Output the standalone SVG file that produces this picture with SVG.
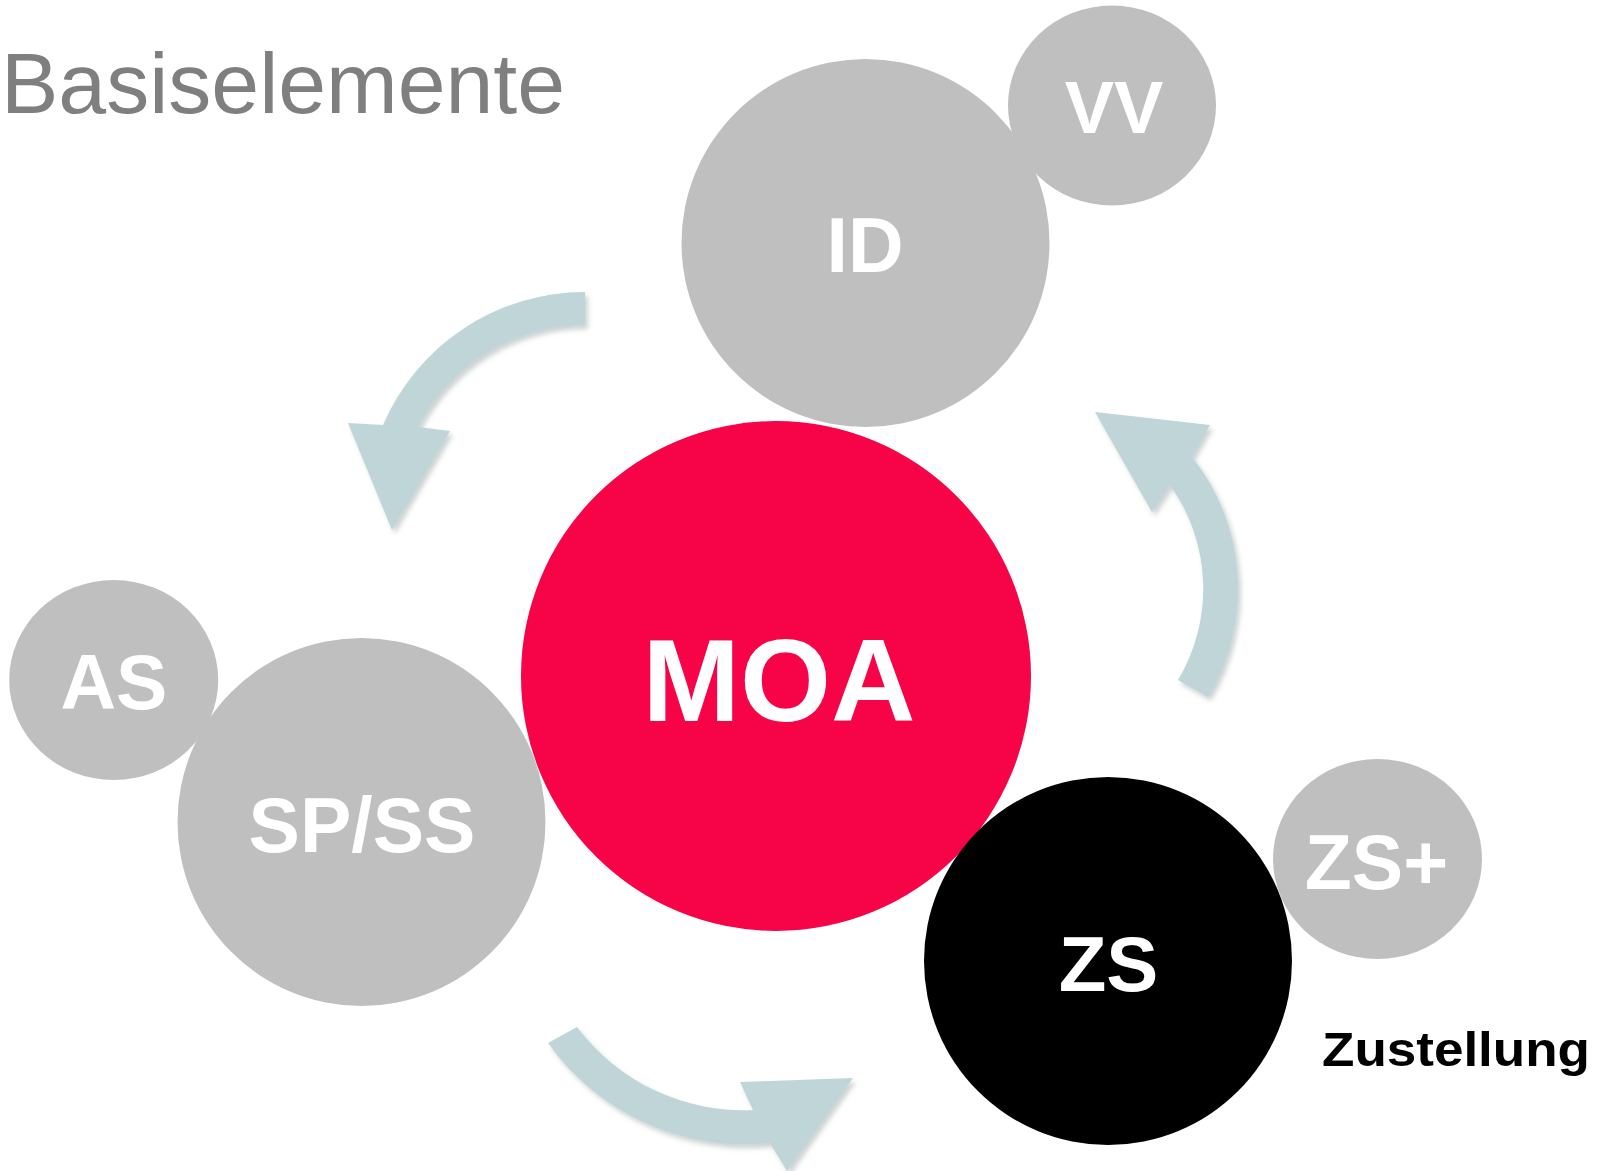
<svg xmlns="http://www.w3.org/2000/svg" width="1606" height="1171" viewBox="0 0 1606 1171">
<defs>
<style>
.g{fill:#BFBFBF}
.lbl{font-family:"Liberation Sans",Arial,sans-serif;font-weight:bold;fill:#FFFFFF;text-anchor:middle}
.arr{fill:#BFD5D7;filter:url(#sh)}
</style>
<filter id="sh" x="-20%" y="-20%" width="140%" height="140%">
<feDropShadow dx="3" dy="4" stdDeviation="2.5" flood-color="#6f7f80" flood-opacity="0.35"/>
</filter>
</defs>
<rect width="1606" height="1171" fill="#FFFFFF"/>
<text x="1" y="113" font-family="Liberation Sans, Arial, sans-serif" font-size="86" fill="#7F7F7F">Basiselemente</text>
<g id="connectors">
<path class="arr" d="M585,292 A220,220 0 0 0 383,425 L348,423 L392,530 L450,431 L418,427 A187,187 0 0 1 585,325 Z"/>
<path class="arr" d="M1208,697 A211,211 0 0 0 1192,457 L1210,425 L1095,412 L1152,512 L1170,485 A178,178 0 0 1 1178,680 Z"/>
<path class="arr" d="M577,1027 A208,208 0 0 0 753,1110 L740,1082 L853,1078 L787,1171 L770,1143 A242,242 0 0 1 548,1043 Z"/>
</g>
<g id="ID">
<circle class="g" cx="865.5" cy="243" r="184"/>
<text class="lbl" x="865" y="271.5" font-size="77">ID</text>
</g>
<g id="VV">
<ellipse class="g" cx="1112" cy="105.5" rx="104" ry="100"/>
<text class="lbl" x="1114" y="133" font-size="74">VV</text>
</g>
<g id="SPSS">
<circle class="g" cx="361.5" cy="822" r="184"/>
<text class="lbl" x="362" y="852" font-size="77">SP/SS</text>
</g>
<g id="AS">
<ellipse class="g" cx="113.7" cy="680" rx="104.5" ry="100"/>
<text class="lbl" x="114" y="709" font-size="77">AS</text>
</g>
<g id="MOA">
<circle cx="776" cy="676" r="255" fill="#F70347"/>
<text class="lbl" x="779" y="721" font-size="117">MOA</text>
</g>
<g id="ZS">
<circle cx="1108" cy="961" r="184" fill="#000000"/>
<text class="lbl" x="1108.5" y="990.5" font-size="78">ZS</text>
</g>
<g id="ZSplus">
<ellipse class="g" cx="1377.5" cy="859" rx="104.5" ry="100"/>
<text class="lbl" x="1376.5" y="889" font-size="77">ZS+</text>
</g>
<g id="Zustellung">
<text x="1322" y="1066" font-family="Liberation Sans, Arial, sans-serif" font-weight="bold" font-size="49" fill="#000000" textLength="268" lengthAdjust="spacingAndGlyphs">Zustellung</text>
</g>
</svg>
